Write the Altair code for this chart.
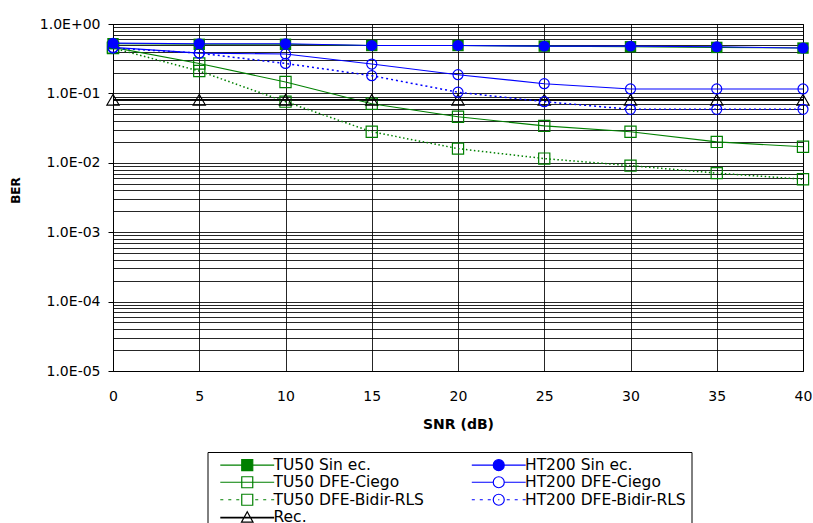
import altair as alt
import pandas as pd

# SNR values (dB) on the horizontal axis
snr = [0, 5, 10, 15, 20, 25, 30, 35, 40]

# Bit error rate per receiver configuration
tu50_sin_ec = [0.52, 0.51, 0.51, 0.49, 0.49, 0.48, 0.47, 0.46, 0.45]
ht200_sin_ec = [0.53, 0.52, 0.52, 0.49, 0.49, 0.48, 0.48, 0.47, 0.45]
tu50_dfe_ciego = [0.46, 0.27, 0.146, 0.071, 0.046, 0.034, 0.028, 0.020, 0.017]
ht200_dfe_ciego = [0.46, 0.38, 0.37, 0.265, 0.186, 0.138, 0.116, 0.116, 0.116]
tu50_dfe_bidir = [0.45, 0.21, 0.076, 0.028, 0.016, 0.0115, 0.0091, 0.0071, 0.0058]
ht200_dfe_bidir = [0.45, 0.38, 0.27, 0.18, 0.104, 0.076, 0.059, 0.059, 0.059]
rec = [0.081, 0.081, 0.081, 0.081, 0.081, 0.081, 0.081, 0.081, 0.081]

names = ["TU50 Sin ec.", "HT200 Sin ec.", "TU50 DFE-Ciego", "HT200 DFE-Ciego",
         "TU50 DFE-Bidir-RLS", "HT200 DFE-Bidir-RLS", "Rec."]
series = {
    "TU50 Sin ec.": tu50_sin_ec,
    "TU50 DFE-Ciego": tu50_dfe_ciego,
    "TU50 DFE-Bidir-RLS": tu50_dfe_bidir,
    "Rec.": rec,
    "HT200 Sin ec.": ht200_sin_ec,
    "HT200 DFE-Ciego": ht200_dfe_ciego,
    "HT200 DFE-Bidir-RLS": ht200_dfe_bidir,
}

rows = []
for name, vals in series.items():
    for s, v in zip(snr, vals):
        rows.append({"snr": s, "ber": v, "series": name})
df = pd.DataFrame(rows)

GREEN = "#008000"
BLUE = "#0000ff"
BLACK = "#000000"

# line / marker styling per series
style = {
    "TU50 Sin ec.": dict(color=GREEN, dash=None, shape="square", filled=True, size=130),
    "TU50 DFE-Ciego": dict(color=GREEN, dash=None, shape="square", filled=False, size=125),
    "TU50 DFE-Bidir-RLS": dict(color=GREEN, dash=[1.5, 2.5], shape="square", filled=False, size=125),
    "Rec.": dict(color=BLACK, dash=None, shape="triangle-up", filled=False, size=150),
    "HT200 Sin ec.": dict(color=BLUE, dash=None, shape="circle", filled=True, size=120),
    "HT200 DFE-Ciego": dict(color=BLUE, dash=None, shape="circle", filled=False, size=100),
    "HT200 DFE-Bidir-RLS": dict(color=BLUE, dash=[2, 3], shape="circle", filled=False, size=100),
}

FONT = "DejaVu Sans"

# grid lines at every 1..9 x 10^k, labels only on the decades
ber_ticks = [m * 10.0 ** e for e in range(-5, 0) for m in range(1, 10)] + [1.0]
is_decade = "abs(log(datum.value)/LN10 - round(log(datum.value)/LN10)) < 0.001"
label_expr = (is_decade + " ? '1.0E' + (datum.value >= 1 ? '+' : '-') + '0' + "
              "abs(round(log(datum.value)/LN10)) : ''")

x_enc = alt.X(
    "snr:Q",
    scale=alt.Scale(domain=[0, 40], nice=False, zero=False),
    axis=alt.Axis(
        values=snr, title="SNR (dB)", grid=True, gridColor=BLACK, gridOpacity=0.85,
        ticks=False, tickSize=0, domain=False, labelFont=FONT, labelFontSize=14,
        labelColor=BLACK, labelPadding=25, labelBaseline="middle", labelFlush=False,
        titleFont=FONT, titleFontSize=14, titleFontWeight="bold", titleColor=BLACK,
        titleY=53, titleBaseline="middle",
    ),
)
y_enc = alt.Y(
    "ber:Q",
    scale=alt.Scale(type="log", domain=[1e-5, 1], nice=False),
    axis=alt.Axis(
        values=ber_ticks, labelExpr=label_expr, title="BER", grid=True,
        gridColor=BLACK, gridOpacity=0.85, tickColor=BLACK, tickSize=5,
        tickOpacity={"condition": {"test": is_decade, "value": 1}, "value": 0},
        domainColor=BLACK, labelFont=FONT, labelFontSize=14, labelColor=BLACK,
        labelPadding=8, labelOverlap=False, labelBound=False,
        titleFont=FONT, titleFontSize=12, titleFontWeight="bold", titleColor=BLACK,
        titleX=-98, titleY=166, titleBaseline="middle", titleAngle=270,
    ),
)

layers = []
for name in series:
    st = style[name]
    line_kw = dict(color=st["color"], strokeWidth=1.5 if st["dash"] else 1.1)
    if name == "Rec.":
        line_kw["strokeWidth"] = 1.6
    if st["dash"]:
        line_kw["strokeDash"] = st["dash"]
    base = alt.Chart(df).transform_filter(alt.datum.series == name)
    layers.append(base.mark_line(**line_kw).encode(x=x_enc, y=y_enc))
    layers.append(
        base.mark_point(
            shape=st["shape"], filled=st["filled"], size=st["size"],
            color=st["color"], strokeWidth=1.2, opacity=1,
        ).encode(x=x_enc, y=y_enc)
    )

# legend symbols: a short line segment with the series marker in the middle
# (path units: 1 unit = half the nominal symbol width)
def solid(left, right):
    return f"M{left},0H{right}"

dots_left = "M-4.9,0H-4.35M-3.45,0H-2.9M-2.0,0H-1.45"
dots_right = "M1.45,0H2.0M2.9,0H3.45M4.35,0H4.9"
square = "M-1,-1H1V1H-1Z"
circle = "M1,0A1,1 0 1,1 -1,0A1,1 0 1,1 1,0Z"
triangle = "M0,-1L1.05,0.9H-1.05Z"

legend_paths = {
    "TU50 Sin ec.": solid(-4.9, 4.9) + square,
    "HT200 Sin ec.": solid(-4.9, 4.9) + circle,
    "TU50 DFE-Ciego": solid(-4.9, 4.9) + square,
    "HT200 DFE-Ciego": solid(-4.9, -1) + solid(1, 4.9) + circle,
    "TU50 DFE-Bidir-RLS": dots_left + dots_right + square,
    "HT200 DFE-Bidir-RLS": dots_left + dots_right + circle + "M-0.1,0H0.1",
    "Rec.": solid(-4.9, 4.9) + "M-4.9,0.12H4.9" + triangle,
}
legend_fill = {n: (style[n]["color"] if style[n]["filled"] else "transparent") for n in names}

legend = alt.Legend(
    title=None, orient="none", legendX=94.5, legendY=428, columns=2,
    direction="horizontal",
    symbolSize=121, symbolStrokeWidth=1.2, symbolOpacity=1, symbolOffset=27,
    labelFont=FONT, labelFontSize=15.5, labelColor=BLACK, labelOffset=18.5,
    labelLimit=300, rowPadding=-0.5, columnPadding=39.5, padding=5,
    strokeColor=BLACK, fillColor="white",
)

legend_layer = alt.Chart(df).transform_filter("datum.snr < 0").mark_point(
    filled=True, strokeWidth=1.2, opacity=1
).encode(
    x=x_enc, y=y_enc,
    shape=alt.Shape("series:N", scale=alt.Scale(domain=names, range=[legend_paths[n] for n in names]), legend=legend),
    stroke=alt.Stroke("series:N", scale=alt.Scale(domain=names, range=[style[n]["color"] for n in names]), legend=legend),
    fill=alt.Fill("series:N", scale=alt.Scale(domain=names, range=[legend_fill[n] for n in names]), legend=legend),
)

chart = alt.layer(*layers, legend_layer).properties(
    width=690, height=347,
    autosize=alt.AutoSizeParams(type="none"),
    padding={"left": 113, "top": 24, "right": 10, "bottom": 152},
    background="white",
).configure_view(stroke=BLACK, strokeWidth=1)

chart.save("out.html", embed_options={"renderer": "svg", "actions": False})
